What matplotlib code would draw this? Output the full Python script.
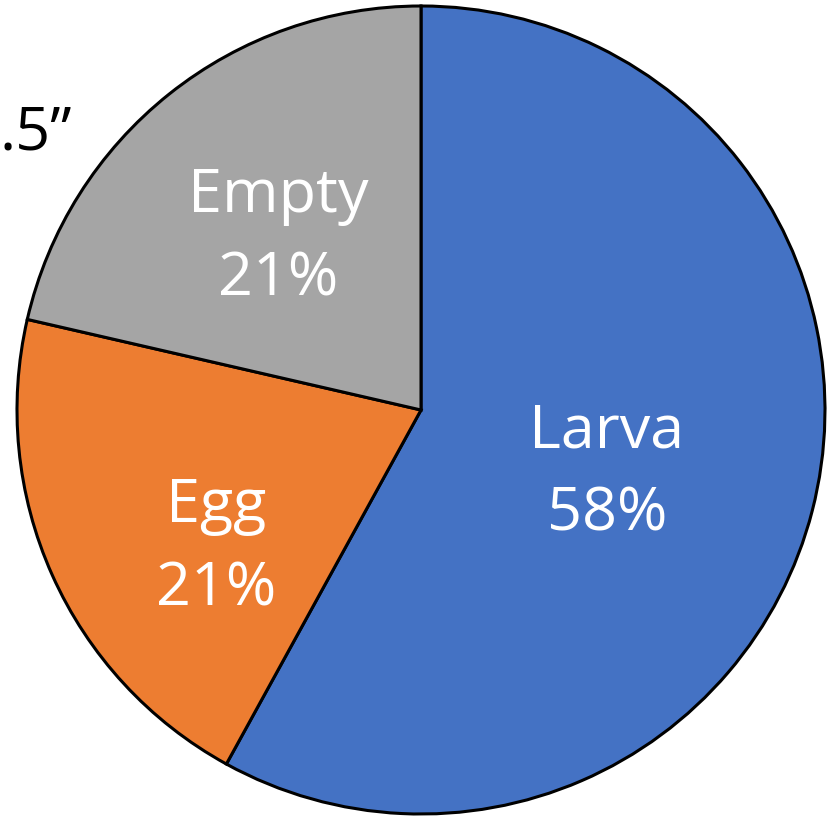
import matplotlib
matplotlib.use("Agg")
import matplotlib.pyplot as plt

categories = ["Larva", "Egg", "Empty"]
values = [58.0, 20.6, 21.4]
colors = ["#4472C4", "#ED7D31", "#A5A5A5"]

W, H = 834, 816
fig = plt.figure(figsize=(W / 100, H / 100), dpi=100)
ax = fig.add_axes([0, 0, 1, 1])

cx, cy, R = 421, H - 410, 404
wedges, _ = ax.pie(values, colors=colors, startangle=90, counterclock=False,
                   center=(cx, cy), radius=R, frame=True,
                   wedgeprops=dict(edgecolor="black", linewidth=2.2))
ax.set_xlim(0, W)
ax.set_ylim(0, H)
ax.set_aspect("equal")
ax.axis("off")

label_pos = {"Larva": (607, 473), "Egg": (216, 548), "Empty": (278, 238)}
for cat, v in zip(categories, values):
    x, y = label_pos[cat]
    ax.text(x, H - y, f"{cat}\n{round(v):d}%", color="white", ha="center", va="center",
            fontsize=44, family="Open Sans", linespacing=1.5)

ax.text(72, H - 133, ".5\u201d", color="black", ha="right", va="center",
        fontsize=44, family="Open Sans")

fig.savefig("out.png", dpi=100)
